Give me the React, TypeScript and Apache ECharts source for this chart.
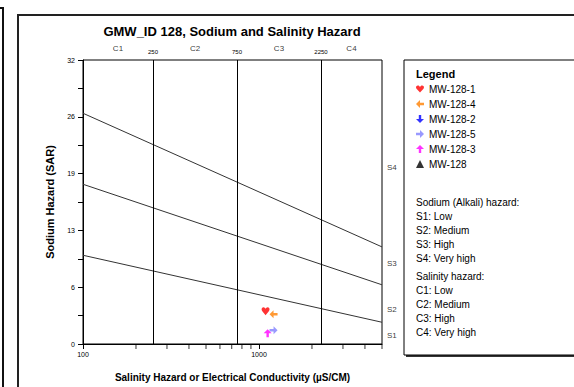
import React, { useEffect, useRef } from "react";
import * as echarts from "echarts";

// ---- data ----
const titleText = "GMW_ID 128, Sodium and Salinity Hazard";
const lineEC = [100, 5000];
const s1s2SAR = [10, 2.45];
const s2s3SAR = [18, 6.67];
const s3s4SAR = [26, 10.94];
const salinityBounds = [250, 750, 2250];
const salinityClasses = ["C1", "C2", "C3", "C4"];
const salinityClassEC = [158, 433, 1299, 3354];
const sodiumClasses = ["S1", "S2", "S3", "S4"];
const sodiumClassSAR = [1.0, 3.9, 9.1, 19.9];
const minorTickEC = [200, 300, 400, 500, 600, 700, 800, 900, 2000, 3000, 4000, 5000];
const xTickLabels = [100, 1000];

const wellNames = ["MW-128-1", "MW-128-4", "MW-128-2", "MW-128-5", "MW-128-3", "MW-128"];
const wellColors = ["#ff0000", "#ff8000", "#0000ff", "#8080ff", "#ff00ff", "#000000"];
const mw128_1 = [[1090, 3.7]];
const mw128_4 = [[1210, 3.35]];
const mw128_2: number[][] = [];
const mw128_5 = [[1210, 1.55]];
const mw128_3 = [[1120, 1.2]];
const mw128: number[][] = [];

const sodiumHazardLines = ["Sodium (Alkali) hazard:", "S1: Low", "S2: Medium", "S3: High", "S4: Very high"];
const salinityHazardLines = ["Salinity hazard:", "C1: Low", "C2: Medium", "C3: High", "C4: Very high"];

// ---- symbols ----
const heart =
  "path://M5,9.5 L1,5.2 C-0.6,3.5 0,1 2.2,0.8 C3.6,0.7 4.5,1.6 5,2.6 C5.5,1.6 6.4,0.7 7.8,0.8 C10,1 10.6,3.5 9,5.2 Z";
const arrowUp = "path://M5,0 L10,5 L6.5,5 L6.5,10 L3.5,10 L3.5,5 L0,5 Z";
const arrowDown = "path://M5,10 L10,5 L6.5,5 L6.5,0 L3.5,0 L3.5,5 L0,5 Z";
const arrowLeft = "path://M0,5 L5,0 L5,3.5 L10,3.5 L10,6.5 L5,6.5 L5,10 Z";
const arrowRight = "path://M10,5 L5,0 L5,3.5 L0,3.5 L0,6.5 L5,6.5 L5,10 Z";
const wellSymbols = [heart, arrowLeft, arrowDown, arrowRight, arrowUp, "triangle"];
const wellData = [mw128_1, mw128_4, mw128_2, mw128_5, mw128_3, mw128];

const FONT = "Liberation Sans, Arial, sans-serif";

export default function App() {
  const ref = useRef<HTMLDivElement>(null);
  useEffect(() => {
    if (!ref.current) return;
    const chart = echarts.init(ref.current, undefined, { renderer: "svg" });

    const pair = (ys: number[]) => lineEC.map((x, i) => [x, ys[i]]);

    const hazardTexts: any[] = [];
    sodiumHazardLines.forEach((t, i) =>
      hazardTexts.push({
        type: "text",
        left: 416,
        top: 197 + i * 14,
        style: { text: t, fontSize: 10, fontFamily: FONT, fill: "#000" },
      })
    );
    salinityHazardLines.forEach((t, i) =>
      hazardTexts.push({
        type: "text",
        left: 416,
        top: 271 + i * 14,
        style: { text: t, fontSize: 10, fontFamily: FONT, fill: "#000" },
      })
    );

    const option: any = {
      animation: false,
      backgroundColor: "#fff",
      textStyle: { fontFamily: FONT },
      title: {
        text: titleText,
        left: 232,
        top: 25,
        textAlign: "center",
        padding: 0,
        textStyle: { fontSize: 13, fontWeight: "bold", color: "#000", fontFamily: FONT },
      },
      graphic: [
        {
          type: "rect",
          shape: { x: -10, y: 8, width: 13, height: 400 },
          style: { fill: "none", stroke: "#111", lineWidth: 2 },
          silent: true,
        },
        {
          type: "rect",
          shape: { x: 18, y: 15, width: 600, height: 400 },
          style: { fill: "none", stroke: "#222", lineWidth: 2 },
          silent: true,
        },
        {
          type: "rect",
          shape: { x: 406, y: 62, width: 200, height: 295 },
          style: { fill: "#333", stroke: "none" },
          silent: true,
          z: -1,
        },
        {
          type: "rect",
          shape: { x: 404, y: 60, width: 200, height: 295 },
          style: { fill: "#fff", stroke: "#000", lineWidth: 1 },
          silent: true,
          z: -1,
        },
        {
          type: "text",
          left: 416,
          top: 68,
          style: { text: "Legend", fontSize: 11, fontWeight: "bold", fontFamily: FONT, fill: "#000" },
        },
        ...hazardTexts,
      ],
      legend: {
        data: wellNames,
        orient: "vertical",
        left: 416,
        top: 84,
        itemWidth: 8,
        itemHeight: 8,
        itemGap: 5,
        padding: 0,
        textStyle: { fontSize: 10, fontFamily: FONT, color: "#000" },
      },
      grid: {
        left: 83,
        top: 60,
        width: 299,
        height: 286,
        show: true,
        borderColor: "#000",
        borderWidth: 1,
        backgroundColor: "#fff",
      },
      xAxis: {
        type: "log",
        logBase: 10,
        min: 100,
        max: 5000,
        name: "Salinity Hazard or Electrical Conductivity (µS/CM)",
        nameLocation: "middle",
        nameGap: 28,
        nameTextStyle: { fontSize: 10, fontWeight: "bold", color: "#000", fontFamily: FONT },
        axisLine: { lineStyle: { color: "#000", width: 1 } },
        axisTick: { show: true, inside: false, length: 5, lineStyle: { color: "#000" } },
        axisLabel: {
          fontSize: 7,
          color: "#000",
          margin: 7,
          showMaxLabel: false,
          formatter: (v: number) => (xTickLabels.includes(Math.round(v)) ? String(Math.round(v)) : ""),
        },
        splitLine: { show: false },
        minorTick: { show: false },
      },
      yAxis: {
        type: "value",
        min: 0,
        max: 32,
        interval: 3.2,
        name: "Sodium Hazard (SAR)",
        nameLocation: "middle",
        nameGap: 28,
        nameTextStyle: { fontSize: 11, fontWeight: "bold", color: "#000", fontFamily: FONT },
        axisLine: { show: true, lineStyle: { color: "#000", width: 1 } },
        axisTick: { show: true, inside: false, length: 5, lineStyle: { color: "#000" } },
        axisLabel: {
          fontSize: 7,
          color: "#000",
          margin: 8,
          formatter: (v: number) => (Math.round(v / 3.2) % 2 === 0 ? String(Math.round(v)) : ""),
        },
        splitLine: { show: false },
      },
      series: [
        {
          name: "S3/S4",
          type: "line",
          data: pair(s3s4SAR),
          symbol: "none",
          lineStyle: { color: "#333", width: 1 },
          silent: true,
          markLine: {
            silent: true,
            symbol: "none",
            lineStyle: { color: "#000", width: 1, type: "solid" },
            label: {
              show: true,
              position: "end",
              distance: 5,
              fontSize: 6,
              color: "#000",
              formatter: (p: any) => String(p.value),
            },
            data: salinityBounds.map((b) => ({ xAxis: b })),
          },
        },
        {
          name: "S2/S3",
          type: "line",
          data: pair(s2s3SAR),
          symbol: "none",
          lineStyle: { color: "#333", width: 1 },
          silent: true,
        },
        {
          name: "S1/S2",
          type: "line",
          data: pair(s1s2SAR),
          symbol: "none",
          lineStyle: { color: "#333", width: 1 },
          silent: true,
        },
        {
          name: "salinityClasses",
          type: "scatter",
          data: salinityClassEC.map((x, i) => ({ value: [x, 32], label: { formatter: salinityClasses[i] } })),
          symbolSize: 0,
          silent: true,
          clip: false,
          label: { show: true, position: "top", distance: 8, fontSize: 8, color: "#000" },
        },
        {
          name: "sodiumClasses",
          type: "scatter",
          data: sodiumClassSAR.map((y, i) => ({ value: [5000, y], label: { formatter: sodiumClasses[i] } })),
          symbolSize: 0,
          silent: true,
          clip: false,
          label: { show: true, position: "right", distance: 5, fontSize: 8, color: "#000" },
        },
        {
          name: "minorTicks",
          type: "scatter",
          data: minorTickEC.map((x) => [x, 0]),
          symbol: "rect",
          symbolSize: [1, 5],
          symbolOffset: [0, 2.5],
          itemStyle: { color: "#000" },
          silent: true,
          clip: false,
        },
        ...wellNames.map((n, i) => ({
          name: n,
          type: "scatter",
          data: wellData[i],
          symbol: wellSymbols[i],
          symbolSize: 8,
          itemStyle: { color: wellColors[i] },
          z: 5,
        })),
      ],
    };
    chart.setOption(option);
    return () => chart.dispose();
  }, []);

  return (
    <div
      ref={ref}
      style={{ position: "fixed", left: 0, top: 0, width: 574, height: 387, background: "#fff" }}
    />
  );
}
